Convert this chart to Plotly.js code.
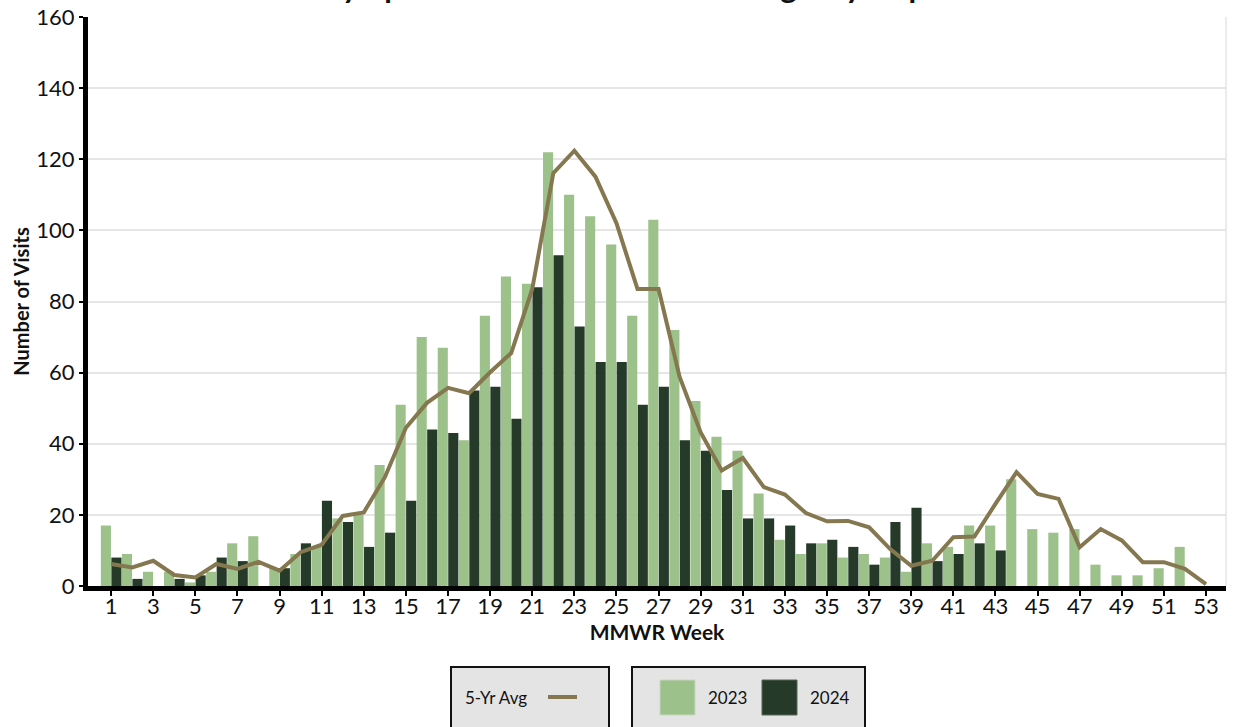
<!DOCTYPE html>
<html>
<head>
<meta charset="utf-8">
<script src="https://cdn.plot.ly/plotly-3.0.1.min.js"></script>
<style>
  html, body { margin: 0; padding: 0; background: #ffffff; }
  #chart { width: 1233px; height: 727px; }
</style>
</head>
<body>
<div id="chart"></div>
<script>
// ---- Data ----
const weeks = [1,2,3,4,5,6,7,8,9,10,11,12,13,14,15,16,17,18,19,20,21,22,23,24,25,26,27,
               28,29,30,31,32,33,34,35,36,37,38,39,40,41,42,43,44,45,46,47,48,49,50,51,52,53];
const tickWeeks = [1,3,5,7,9,11,13,15,17,19,21,23,25,27,29,31,33,35,37,39,41,43,45,47,49,51,53];
const yTicks = [0,20,40,60,80,100,120,140,160];

const visits2023 = [17,9,4,4,1,4,12,14,5,9,11,19,20,34,51,70,67,41,76,87,85,122,110,104,96,76,103,
                    72,52,42,38,26,13,9,12,8,9,8,4,12,11,17,17,30,16,15,16,6,3,3,5,11,null];
const visits2024 = [8,2,0,2,3,8,7,0,5,12,24,18,11,15,24,44,43,55,56,47,84,93,73,63,63,51,56,
                    41,38,27,19,19,17,12,13,11,6,18,22,7,9,12,10,null,null,null,null,null,null,null,null,null,null];
const avg5yr = [6.2,5.2,7.1,3.1,2.4,6.2,4.8,6.8,4.3,9.5,11.6,19.7,20.7,30.6,44.5,51.5,55.7,54.2,60.1,65.5,83.5,116.1,122.4,115.1,102,83.5,83.5,
                58.8,43.2,32.5,36,27.8,25.7,20.5,18.2,18.3,16.5,10.4,5.7,7.1,13.7,13.9,23.1,32,25.9,24.5,10.9,16,12.8,6.7,6.7,4.8,0.5];

const seriesNames = ['2023', '2024'];
const lineName = '5-Yr Avg';
const colors = { y2023: '#9dc18a', y2024: '#263a2a', avg: '#857850' };

const FONT = 'Lato, "Open Sans", "DejaVu Sans", sans-serif';

// ---- Traces ----
const traces = [
  { type: 'bar', name: seriesNames[0], x: weeks, y: visits2023,
    marker: { color: colors.y2023, line: { width: 0 } }, showlegend: false },
  { type: 'bar', name: seriesNames[1], x: weeks, y: visits2024,
    marker: { color: colors.y2024, line: { width: 0 } }, showlegend: false },
  { type: 'scatter', mode: 'lines', name: lineName, x: weeks, y: avg5yr,
    line: { color: colors.avg, width: 4 }, showlegend: false }
];

// ---- Layout geometry helpers (pixel -> paper) ----
const W = 1233, H = 727;
const M = { l: 88, r: 7, t: 17, b: 141 };
const PW = W - M.l - M.r, PH = H - M.t - M.b;
const px = v => (v - M.l) / PW;
const py = v => (H - M.b - v) / PH;

// custom legend boxes
const shapes = [
  { type: 'line', xref: 'paper', yref: 'paper', x0: 1, x1: 1, y0: 0, y1: 1,
    line: { color: '#d9d9d9', width: 1 } },
  { type: 'rect', xref: 'paper', yref: 'paper', x0: px(451), x1: px(609), y0: py(667), y1: py(740),
    fillcolor: '#e4e4e4', line: { color: '#111111', width: 2 } },
  { type: 'line', xref: 'paper', yref: 'paper', x0: px(548), x1: px(577), y0: py(697), y1: py(697),
    line: { color: colors.avg, width: 4 } },
  { type: 'rect', xref: 'paper', yref: 'paper', x0: px(632), x1: px(865), y0: py(667), y1: py(740),
    fillcolor: '#e4e4e4', line: { color: '#111111', width: 2 } },
  { type: 'rect', xref: 'paper', yref: 'paper', x0: px(660), x1: px(695), y0: py(680), y1: py(715),
    fillcolor: colors.y2023, line: { color: '#c8d8c0', width: 1 } },
  { type: 'rect', xref: 'paper', yref: 'paper', x0: px(762), x1: px(797), y0: py(680), y1: py(715),
    fillcolor: colors.y2024, line: { color: '#556655', width: 1 } }
];

const legendFont = { family: FONT, size: 17, color: '#111111' };
const annotations = [
  { xref: 'paper', yref: 'paper', x: px(463), y: py(697), xanchor: 'left', yanchor: 'middle',
    text: lineName, showarrow: false, font: legendFont },
  { xref: 'paper', yref: 'paper', x: px(706), y: py(697), xanchor: 'left', yanchor: 'middle',
    text: seriesNames[0], showarrow: false, font: legendFont },
  { xref: 'paper', yref: 'paper', x: px(808), y: py(697), xanchor: 'left', yanchor: 'middle',
    text: seriesNames[1], showarrow: false, font: legendFont }
];

const layout = {
  width: W, height: H,
  margin: M,
  paper_bgcolor: '#ffffff', plot_bgcolor: '#ffffff',
  font: { family: FONT, color: '#111111' },
  title: {
    text: '<b>Tick Bite Symptoms Related Visits to Emergency Department</b>',
    font: { family: FONT, size: 31, color: '#111111' },
    xref: 'container', yref: 'container',
    x: 0.5, xanchor: 'center',
    y: 1, yanchor: 'bottom',
    pad: { b: 2 }
  },
  barmode: 'group',
  bargap: 0.0,
  bargroupgap: 0.04,
  xaxis: {
    range: [-0.1, 53.95],
    tickmode: 'array', tickvals: tickWeeks, ticktext: tickWeeks.map(String),
    showgrid: false, zeroline: false,
    showline: true, linecolor: '#000000', linewidth: 5,
    ticks: 'outside', ticklen: 5, tickwidth: 2, tickcolor: '#000000',
    ticklabelstandoff: -8,
    tickfont: { family: FONT, size: 22, color: '#111111' },
    title: { text: '<b>MMWR Week</b>', font: { family: FONT, size: 21, color: '#111111' }, standoff: 4 }
  },
  yaxis: {
    range: [0, 160],
    tickmode: 'array', tickvals: yTicks,
    showgrid: true, gridcolor: '#e6e6e6', gridwidth: 2,
    zeroline: false,
    showline: true, linecolor: '#000000', linewidth: 5,
    ticks: 'outside', ticklen: 4, tickwidth: 2, tickcolor: '#000000',
    tickfont: { family: FONT, size: 22, color: '#111111' },
    title: { text: '<b>Number of Visits</b>', font: { family: FONT, size: 20, color: '#111111' }, standoff: 3 }
  },
  shapes: shapes,
  annotations: annotations,
  showlegend: false
};

Plotly.newPlot('chart', traces, layout, { displayModeBar: false, staticPlot: true });
</script>
</body>
</html>
